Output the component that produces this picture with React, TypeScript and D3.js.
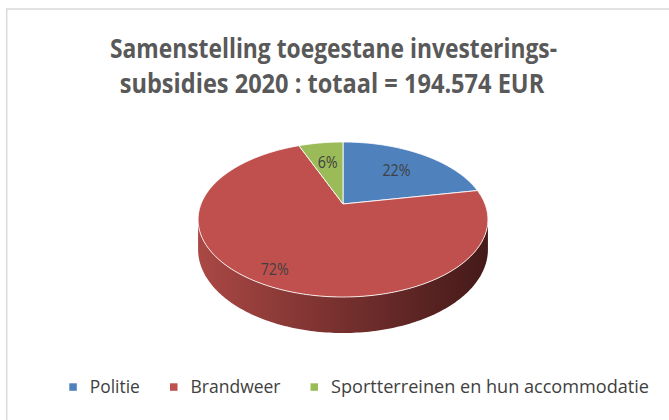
import React from "react";
import * as d3 from "d3";

const categories = ["Politie", "Brandweer", "Sportterreinen en hun accommodatie"];
const values = [42800, 140100, 11674];
const colors = ["#4F81BD", "#C0504D", "#9BBB59"];
const titleLines = ["Samenstelling toegestane investerings-", "subsidies 2020 : totaal = 194.574 EUR"];

const W = 669;
const H = 420;
// projection layout
const CX = 343, CY = 204, A = 142, B = 74.4, P = 0.2, DEPTH = 28.8;

function proj(theta: number, r = 1): [number, number, number] {
  const u = r * Math.sin(theta);
  const v = -r * Math.cos(theta);
  const w = 1 - P * v;
  return [CX + (A * u) / w, CY + (B * v) / w, w];
}

function arcPoints(a0: number, a1: number, bottom = false): [number, number][] {
  const n = Math.max(2, Math.ceil(((a1 - a0) / Math.PI) * 180));
  const pts: [number, number][] = [];
  for (let i = 0; i <= n; i++) {
    const t = a0 + ((a1 - a0) * i) / n;
    const [x, y, w] = proj(t);
    pts.push([x, bottom ? y + DEPTH / w : y]);
  }
  return pts;
}

const line = d3.line<[number, number]>();

export default function App() {
  const pie = d3.pie<number>().sort(null).startAngle(0).endAngle(2 * Math.PI);
  const arcs = pie(values);
  const total = d3.sum(values);
  const fmt = d3.format(".0%");

  const thL = Math.acos(-P);
  const thR = 2 * Math.PI - thL;

  const sides = arcs
    .map((a, i) => {
      const s = Math.max(a.startAngle, thL);
      const e = Math.min(a.endAngle, thR);
      if (e <= s) return null;
      const top = arcPoints(s, e);
      const bot = arcPoints(s, e, true).reverse();
      return { i, d: line([...top, ...bot]) + "Z" };
    })
    .filter(Boolean) as { i: number; d: string }[];

  const tops = arcs.map((a, i) => {
    const pts: [number, number][] = [[CX, CY], ...arcPoints(a.startAngle, a.endAngle)];
    return { i, d: line(pts) + "Z" };
  });

  const labels = arcs.map((a, i) => {
    const mid = (a.startAngle + a.endAngle) / 2;
    const frac = (a.endAngle - a.startAngle) / (2 * Math.PI);
    const r = frac > 0.5 ? 0.85 : 0.65;
    const [x, y] = proj(mid, r);
    return { x, y, text: fmt(values[i] / total) };
  });

  const legendX = [69.3, 170, 310.5];
  const legendLen = [50, 90, 318];
  const legendTextGap = 20.5;

  return (
    <svg
      width={W}
      height={H}
      style={{ position: "absolute", left: 0, top: 0, background: "#fff" }}
      fontFamily="'Open Sans', sans-serif"
    >
      <defs>
        <linearGradient id="sideGrad" gradientUnits="userSpaceOnUse" x1={CX - A * 1.02} x2={CX + A * 1.02} y1={0} y2={0}>
          <stop offset="0" stopColor="#aa4845" />
          <stop offset="0.45" stopColor="#7b3230" />
          <stop offset="1" stopColor="#441a19" />
        </linearGradient>
      </defs>
      <rect x={0} y={0} width={W} height={H} fill="#fff" />
      <rect x={6.7} y={9} width={W + 20} height={H + 20} fill="none" stroke="#d9d9d9" strokeWidth={1.5} />

      {titleLines.map((t, i) => (
        <text
          key={i}
          x={i === 0 ? 333.5 : 332}
          y={i === 0 ? 57.7 : 93.3}
          textAnchor="middle"
          fontSize={26}
          fontWeight="bold"
          fill="#595959"
          textLength={i === 0 ? 447 : 424.5}
          lengthAdjust="spacingAndGlyphs"
        >
          {t}
        </text>
      ))}

      {sides.map((s) => (
        <path key={"s" + s.i} d={s.d} fill={s.i === 1 ? "url(#sideGrad)" : d3.color(colors[s.i])!.darker(1.2).toString()} />
      ))}
      {tops.map((t) => (
        <path key={"t" + t.i} d={t.d} fill={colors[t.i]} stroke="rgba(255,255,255,0.85)" strokeWidth={1} strokeLinejoin="round" />
      ))}

      {labels.map((l, i) => (
        <text key={"l" + i} x={l.x} y={l.y} dy="0.36em" textAnchor="middle" fontSize={16.5} fill="#404040" textLength={i === 2 ? 20 : 28} lengthAdjust="spacingAndGlyphs">
          {l.text}
        </text>
      ))}

      {categories.map((c, i) => (
        <g key={"lg" + i}>
          <rect x={legendX[i]} y={383.3} width={7.5} height={7.5} fill={colors[i]} />
          <text x={legendX[i] + legendTextGap} y={393.3} fontSize={19} fill="#404040" textLength={legendLen[i]} lengthAdjust="spacingAndGlyphs">
            {c}
          </text>
        </g>
      ))}
    </svg>
  );
}
